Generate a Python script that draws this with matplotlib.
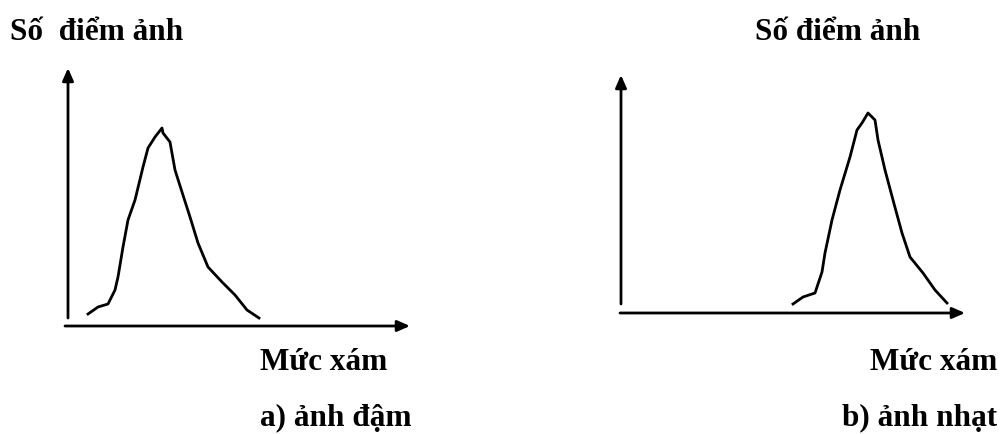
import matplotlib

matplotlib.use("Agg")

import matplotlib.pyplot as plt

plt.rcParams["font.family"] = ["Liberation Serif", "DejaVu Serif"]

W, H = 1003, 434

# histogram of the dark image (panel a)
dark_x = [88, 98, 108, 115, 118, 123, 128, 135, 143, 148, 155, 162, 163,
          170, 175, 182, 190, 198, 208, 222, 235, 247, 259]
dark_y = [314, 307, 304, 290, 277, 247, 220, 200, 167, 148, 137, 128, 133,
          142, 170, 192, 217, 243, 267, 282, 295, 310, 318]

# histogram of the light image (panel b)
light_x = [793, 803, 815, 822, 825, 832, 840, 850, 857, 862, 868, 875,
           878, 885, 893, 902, 910, 923, 935, 947]
light_y = [304, 297, 293, 272, 253, 220, 190, 157, 130, 123, 113, 120,
           140, 170, 200, 233, 257, 273, 290, 303]

# axis frames: (y-axis x, y-axis top, y-axis bottom, x-axis y, x-axis left, x-axis tip)
frames = [(68, 68, 318, 326, 65, 410), (621, 75, 304, 313, 620, 965)]

labels = [
    ("Số  điểm ảnh", 10, 33, "left"),
    ("Số điểm ảnh", 755, 33, "left"),
    ("Mức xám", 260, 363, "left"),
    ("Mức xám", 997, 363, "right"),
    ("a) ảnh đậm", 260, 418, "left"),
    ("b) ảnh nhạt", 997, 418, "right"),
]

fig = plt.figure(figsize=(W / 100, H / 100), dpi=100)
ax = fig.add_axes([0, 0, 1, 1])
ax.set_xlim(0, W)
ax.set_ylim(H, 0)
ax.axis("off")

arrow = dict(arrowstyle="-|>,head_length=0.75,head_width=0.33", color="black",
             lw=2, shrinkA=0, shrinkB=0)
for yx, ytop, ybot, xy, xl, xr in frames:
    ax.annotate("", xy=(yx, ytop), xytext=(yx, ybot), arrowprops=arrow)
    ax.annotate("", xy=(xr, xy), xytext=(xl, xy), arrowprops=arrow)

ax.plot(dark_x, dark_y, color="black", lw=2)
ax.plot(light_x, light_y, color="black", lw=2)

for txt, x, y, ha in labels:
    ax.text(x, y, txt, ha=ha, va="center", fontsize=22.5, fontweight="bold")

fig.savefig("out.png", dpi=100)
